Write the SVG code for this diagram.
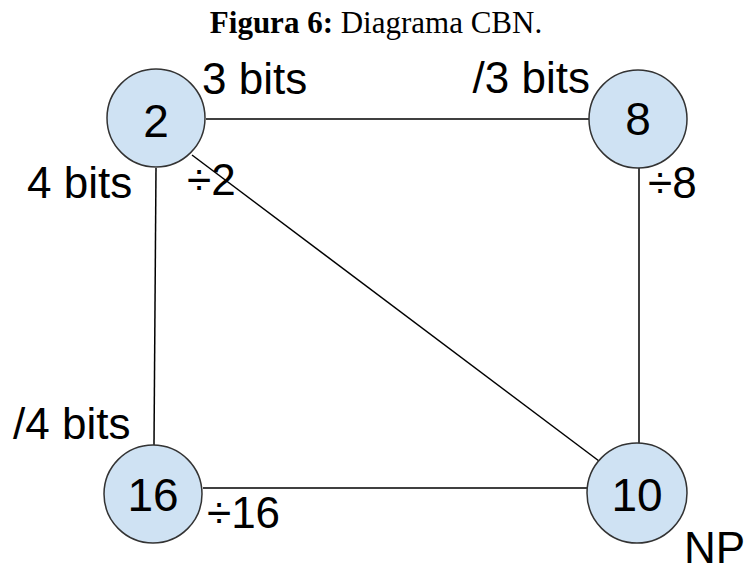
<svg xmlns="http://www.w3.org/2000/svg" width="750" height="566" viewBox="0 0 750 566">
<style>
.node{fill:#cfe2f3;stroke:#333;stroke-width:1.5}
.num{font-family:"Liberation Sans",Arial,sans-serif;font-size:46px;fill:#000;text-anchor:middle}
.lbl{font-family:"Liberation Sans",Arial,sans-serif;font-size:44px;fill:#000}
.edge{stroke:#000;stroke-width:1.5;fill:none}
.title{font-family:"Liberation Serif","Times New Roman",serif;font-size:31px;fill:#000}
</style>
<rect width="750" height="566" fill="#fff"/>
<text class="title" x="376" y="33" text-anchor="middle"><tspan font-weight="bold">Figura 6:</tspan> Diagrama CBN.</text>
<g id="connectors">
<line class="edge" x1="206" y1="119" x2="589" y2="119"/>
<line class="edge" x1="156" y1="168" x2="154" y2="445"/>
<line class="edge" x1="639" y1="168" x2="639" y2="444"/>
<line class="edge" x1="203" y1="488" x2="587" y2="488"/>
<line class="edge" x1="192" y1="155" x2="599" y2="461"/>
</g>
<g id="node2"><circle class="node" cx="156" cy="118" r="49"/><text class="num" x="156" y="137">2</text></g>
<g id="node8"><circle class="node" cx="638" cy="119" r="49"/><text class="num" x="638" y="135">8</text></g>
<g id="node16"><circle class="node" cx="153" cy="494" r="49"/><text class="num" x="153" y="511">16</text></g>
<g id="node10"><circle class="node" cx="637" cy="493" r="50"/><text class="num" x="637" y="511">10</text></g>
<g id="labels">
<text class="lbl" x="202" y="94">3 bits</text>
<text class="lbl" x="590" y="93" text-anchor="end">/3 bits</text>
<text class="lbl" x="27" y="198">4 bits</text>
<text class="lbl" x="187" y="195">÷2</text>
<text class="lbl" x="648" y="198">÷8</text>
<text class="lbl" x="13" y="439">/4 bits</text>
<text class="lbl" x="207" y="528">÷16</text>
<text class="lbl" x="684" y="563">NP</text>
</g>
</svg>
